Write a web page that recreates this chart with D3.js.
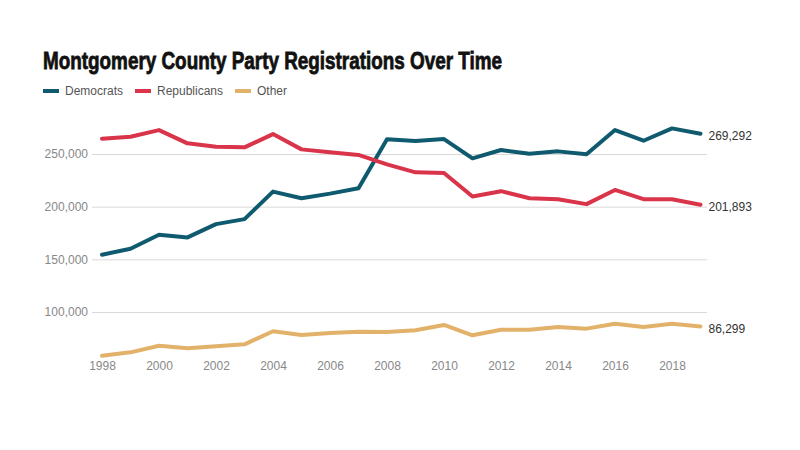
<!DOCTYPE html>
<html>
<head>
<meta charset="utf-8">
<script src="https://cdn.jsdelivr.net/npm/d3@7"></script>
<style>
  body { margin: 0; background: #fff; }
  svg { display: block; }
  .title { font-family: "Liberation Sans Narrow", "Liberation Sans", sans-serif; font-weight: bold; font-size: 24px; fill: #111; stroke: #111; stroke-width: 0.8px; }
  .legend text { font-family: "Liberation Sans", Arial, sans-serif; font-size: 12px; fill: #555; }
  .tick text { font-family: "Liberation Sans", Arial, sans-serif; font-size: 12px; fill: #888; }
  .end-label { font-family: "Liberation Sans", Arial, sans-serif; font-size: 12px; fill: #333; }
</style>
</head>
<body>
<svg id="chart" width="800" height="450"></svg>
<script>
// Data (thousands are kept as whole numbers)
const years = d3.range(1998, 2020);
const democrats = [154400, 160000, 173300, 170800, 183400, 188200, 214300, 208000, 212400, 217500,
    263900, 262300, 264200, 245900, 253800, 250300, 252500, 249700, 272700, 262600, 274300, 269292];
const republicans = [264500, 266400, 272700, 260100, 256900, 256300, 268900, 254400, 251600, 249100,
    240200, 232600, 232000, 209600, 214700, 208000, 207100, 202400, 215900, 207100, 207100, 201893];
const other = [58500, 61700, 68000, 65500, 67400, 69300, 81700, 78200, 80100, 81300,
    81000, 82600, 87700, 77900, 83200, 83200, 85800, 84200, 88900, 85800, 88900, 86299];
const seriesNames = ["Democrats", "Republicans", "Other"];
const yTicks = [100000, 150000, 200000, 250000];
const xTicks = [1998, 2000, 2002, 2004, 2006, 2008, 2010, 2012, 2014, 2016, 2018];

const colors = {
    Democrats: "#0f5a6e",
    Republicans: "#d9344a",
    Other: "#e3b26a"
};

const series = [
    { name: "Democrats", values: democrats },
    { name: "Republicans", values: republicans },
    { name: "Other", values: other }
];

let svg = d3.select("#chart");

// Scales
let x = d3.scaleLinear().domain([1998, 2019]).range([102, 700.5]);
let y = d3.scaleLinear().domain([100000, 250000]).range([312, 154]);

// Title
svg.append("text")
    .attr("class", "title")
    .attr("x", 43)
    .attr("y", 69)
    .attr("textLength", 459)
    .attr("lengthAdjust", "spacingAndGlyphs")
    .text("Montgomery County Party Registrations Over Time");

// Legend
let legendX = [43, 135, 235];
let legend = svg.append("g").attr("class", "legend");
seriesNames.forEach((name, i) => {
    let g = legend.append("g").attr("transform", "translate(" + legendX[i] + ",91)");
    g.append("rect").attr("x", 0).attr("y", -2).attr("width", 16).attr("height", 4).attr("fill", colors[name]);
    g.append("text").attr("x", 22).attr("y", 0).attr("dy", "0.35em").text(name);
});

// Gridlines + y labels
let yAxis = d3.axisLeft(y)
    .tickValues(yTicks)
    .tickSize(-(707 - 92))
    .tickPadding(4)
    .tickFormat(d3.format(","));
svg.append("g")
    .attr("transform", "translate(92,0)")
    .call(yAxis)
    .call(g => g.select(".domain").remove())
    .call(g => g.selectAll(".tick line").attr("stroke", "#d9d9d9"));

// x labels
let xAxis = d3.axisBottom(x)
    .tickValues(xTicks)
    .tickSize(0)
    .tickPadding(0)
    .tickFormat(d3.format("d"));
svg.append("g")
    .attr("transform", "translate(0,361)")
    .call(xAxis)
    .call(g => g.select(".domain").remove());

// Lines
let line = d3.line()
    .x((d, i) => x(years[i]))
    .y(d => y(d));

svg.append("g").selectAll("path")
    .data(series)
    .enter().append("path")
    .attr("fill", "none")
    .attr("stroke", d => colors[d.name])
    .attr("stroke-width", 4)
    .attr("stroke-linejoin", "round")
    .attr("stroke-linecap", "round")
    .attr("d", d => line(d.values));

// End labels
svg.append("g").selectAll("text")
    .data(series)
    .enter().append("text")
    .attr("class", "end-label")
    .attr("x", x(2019) + 8)
    .attr("y", d => y(d.values[d.values.length - 1]) + 2)
    .attr("dy", "0.35em")
    .text(d => d3.format(",")(d.values[d.values.length - 1]));
</script>
</body>
</html>
